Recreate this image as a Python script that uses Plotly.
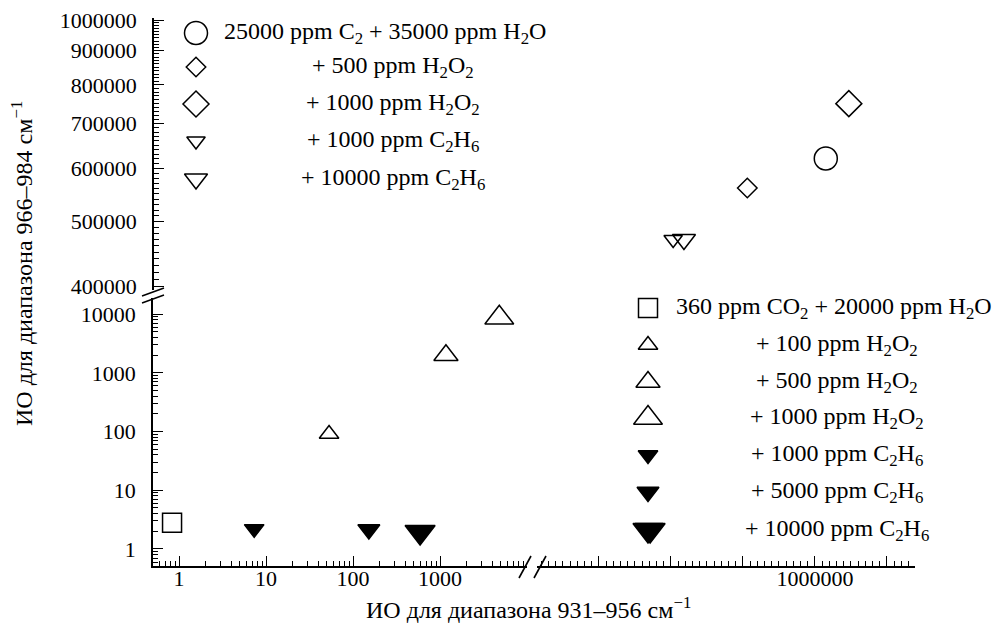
import plotly.graph_objects as go

# ---------------- DATA ----------------
# Lower panel series: "360 ppm CO2 + 20000 ppm H2O" and additions
co2_x = [0.83]
co2_y = [2.8]
h2o2_100_x = [53];    h2o2_100_y = [91]
h2o2_500_x = [1170];  h2o2_500_y = [2000]
h2o2_1000_x = [4800]; h2o2_1000_y = [8700]
c2h6_1000_x = [7.3];  c2h6_1000_y = [2.2]
c2h6_5000_x = [152];  c2h6_5000_y = [2.15]
c2h6_10000_x = [590]; c2h6_10000_y = [1.95]
c2h6_10000_hi_x = [771000]; c2h6_10000_hi_y = [2.1]

# Upper panel series: "25000 ppm C2 + 35000 ppm H2O" and additions
c2_x = [1015000];           c2_y = [621000]
c2_h2o2_500_x = [906000];   c2_h2o2_500_y = [561000]
c2_h2o2_1000_x = [1047000]; c2_h2o2_1000_y = [750000]
c2_c2h6_1000_x = [803000];  c2_c2h6_1000_y = [470000]
c2_c2h6_10000_x = [818000]; c2_c2h6_10000_y = [470000]

legend_upper = ["25000 ppm C<sub>2</sub> + 35000 ppm H<sub>2</sub>O",
                "+ 500 ppm H<sub>2</sub>O<sub>2</sub>",
                "+ 1000 ppm H<sub>2</sub>O<sub>2</sub>",
                "+ 1000 ppm C<sub>2</sub>H<sub>6</sub>",
                "+ 10000 ppm C<sub>2</sub>H<sub>6</sub>"]
legend_lower = ["360 ppm CO<sub>2</sub> + 20000 ppm H<sub>2</sub>O",
                "+ 100 ppm H<sub>2</sub>O<sub>2</sub>",
                "+ 500 ppm H<sub>2</sub>O<sub>2</sub>",
                "+ 1000 ppm H<sub>2</sub>O<sub>2</sub>",
                "+ 1000 ppm C<sub>2</sub>H<sub>6</sub>",
                "+ 5000 ppm C<sub>2</sub>H<sub>6</sub>",
                "+ 10000 ppm C<sub>2</sub>H<sub>6</sub>"]

x_low_ticks = [1, 10, 100, 1000]
y_low_ticks = [1, 10, 100, 1000, 10000]
y_up_ticks = [400000, 500000, 600000, 700000, 800000, 900000, 1000000]
x_hi_label = [1000000]

x_title = "ИО для диапазона 931–956 см<sup>−1</sup>"
y_title = "ИО для диапазона 966–984 см<sup>−1</sup>"

# ---------------- LAYOUT HELPERS ----------------
W, H = 1000, 630
OFF = 8                         # page body margin
L, R, T, B = 153, 915, 18, 566  # plot area in screen pixels


def px(x):
    return (x - L) / (R - L)


def py(y):
    return (B - y) / (B - T)


FONT = "Liberation Serif, Times New Roman, Times, serif"
BLACK = "black"

st_co2 = ("square-open", 19)
st_up = [("triangle-up-open", 17), ("triangle-up-open", 21), ("triangle-up-open", 25)]
st_dn = [("triangle-down", 17), ("triangle-down", 19), ("triangle-down", 26)]
st_c2 = ("circle-open", 23)
st_dia = [("diamond-open", 15), ("diamond-open", 20)]
st_dno = [("triangle-down-open", 16), ("triangle-down-open", 20)]


def mk(x, y, style, xa, ya):
    sym, size = style
    return go.Scatter(x=x, y=y, mode="markers", xaxis=xa, yaxis=ya,
                      showlegend=False, cliponaxis=False, hoverinfo="skip",
                      marker=dict(symbol=sym, size=size, color=BLACK,
                                  line=dict(color=BLACK, width=1.5)))


fig = go.Figure()
fig.add_trace(mk(co2_x, co2_y, st_co2, "x", "y"))
fig.add_trace(mk(h2o2_100_x, h2o2_100_y, st_up[0], "x", "y"))
fig.add_trace(mk(h2o2_500_x, h2o2_500_y, st_up[1], "x", "y"))
fig.add_trace(mk(h2o2_1000_x, h2o2_1000_y, st_up[2], "x", "y"))
fig.add_trace(mk(c2h6_1000_x, c2h6_1000_y, st_dn[0], "x", "y"))
fig.add_trace(mk(c2h6_5000_x, c2h6_5000_y, st_dn[1], "x", "y"))
fig.add_trace(mk(c2h6_10000_x, c2h6_10000_y, st_dn[2], "x", "y"))
fig.add_trace(mk(c2h6_10000_hi_x, c2h6_10000_hi_y, st_dn[2], "x2", "y"))
fig.add_trace(mk(c2_c2h6_1000_x, c2_c2h6_1000_y, st_dno[0], "x2", "y2"))
fig.add_trace(mk(c2_c2h6_10000_x, c2_c2h6_10000_y, st_dno[1], "x2", "y2"))
fig.add_trace(mk(c2_h2o2_500_x, c2_h2o2_500_y, st_dia[0], "x2", "y2"))
fig.add_trace(mk(c2_x, c2_y, st_c2, "x2", "y2"))
fig.add_trace(mk(c2_h2o2_1000_x, c2_h2o2_1000_y, st_dia[1], "x2", "y2"))

# ---------------- legends (overlay axes in paper units) ----------------
LEG_SIZE = 24
annotations = []
up_styles = [st_c2, st_dia[0], st_dia[1], st_dno[0], st_dno[1]]
up_rows = [33, 67, 104, 141, 179]
for i, (name, style) in enumerate(zip(legend_upper, up_styles)):
    fig.add_trace(mk([px(196)], [py(up_rows[i])], style, "x3", "y3"))
    if i == 0:
        annotations.append(dict(x=px(222), y=py(up_rows[i]), text=name, xanchor="left"))
    else:
        annotations.append(dict(x=px(393), y=py(up_rows[i]), text=name, xanchor="center"))

lo_styles = [st_co2] + st_up + st_dn
lo_rows = [308, 345, 382, 418, 455, 492, 530]
for i, (name, style) in enumerate(zip(legend_lower, lo_styles)):
    fig.add_trace(mk([px(648)], [py(lo_rows[i])], style, "x3", "y3"))
    if i == 0:
        annotations.append(dict(x=px(674), y=py(lo_rows[i]), text=name, xanchor="left"))
    else:
        annotations.append(dict(x=px(837), y=py(lo_rows[i]), text=name, xanchor="center"))

for a in annotations:
    a.update(xref="paper", yref="paper", yanchor="middle", showarrow=False,
             font=dict(family=FONT, size=LEG_SIZE, color=BLACK))

annotations.append(dict(x=px(528), y=py(608), xref="paper", yref="paper", text=x_title,
                        showarrow=False, xanchor="center", yanchor="middle",
                        font=dict(family=FONT, size=24, color=BLACK)))
annotations.append(dict(x=px(22), y=py(264), xref="paper", yref="paper", text=y_title,
                        showarrow=False, xanchor="center", yanchor="middle", textangle=-90,
                        font=dict(family=FONT, size=24, color=BLACK)))

# ---------------- axes ----------------
common = dict(showgrid=False, zeroline=False, showline=True, linecolor=BLACK, linewidth=1.6,
              ticks="inside", ticklen=10, tickwidth=1.4, tickcolor=BLACK,
              ticklabeloverflow="allow", automargin=False,
              tickfont=dict(family=FONT, size=22, color=BLACK))


def log_minor(lo, hi):
    vals = []
    for d in range(-2, 8):
        for k in range(2, 10):
            v = k * 10 ** d
            if lo <= v <= hi:
                vals.append(v)
    return vals


minor_style = dict(ticks="inside", ticklen=5, tickwidth=1.2, tickcolor=BLACK, showgrid=False)

x_hi_major = list(range(700000, 1100001, 100000))
x_hi_minor = [v for v in range(620000, 1138000, 10000) if v % 100000]
y_up_minor = [v for v in range(400000, 1008000, 10000) if v % 100000]

fig.update_layout(
    width=W, height=H,
    margin=dict(l=L - OFF, r=W - (R - OFF), t=T - OFF, b=H - (B - OFF), pad=0, autoexpand=False),
    paper_bgcolor="white", plot_bgcolor="rgba(0,0,0,0)",
    showlegend=False,
    font=dict(family=FONT, size=22, color=BLACK),
    xaxis=dict(type="log", domain=[0, px(527)], range=[-0.30, 4.0], anchor="y",
               tickmode="array", tickvals=x_low_ticks, ticktext=[str(v) for v in x_low_ticks],
               ticklabelstandoff=-8,
               minor=dict(tickmode="array", tickvals=log_minor(0.5, 10000), **minor_style),
               **common),
    xaxis2=dict(type="linear", domain=[px(537), 1], range=[613900, 1138900], anchor="y",
                tickmode="array", tickvals=x_hi_major,
                ticktext=[str(v) if v in x_hi_label else "" for v in x_hi_major],
                ticklabelstandoff=-8,
                minor=dict(tickmode="array", tickvals=x_hi_minor, **minor_style),
                **common),
    yaxis=dict(type="log", domain=[0, py(298)], range=[-0.29, 4.276], anchor="x",
               tickmode="array", tickvals=y_low_ticks, ticktext=[str(v) for v in y_low_ticks],
               ticklabelstandoff=11,
               minor=dict(tickmode="array", tickvals=log_minor(0.5, 18000), **minor_style),
               **common),
    yaxis2=dict(type="log", domain=[py(290), 1], range=[5.5966, 6.003], anchor="free", position=0,
                tickmode="array", tickvals=y_up_ticks, ticktext=[str(v) for v in y_up_ticks],
                ticklabelstandoff=11,
                minor=dict(tickmode="array", tickvals=y_up_minor, **minor_style),
                **common),
    xaxis3=dict(domain=[0, 1], range=[0, 1], visible=False, anchor="y3"),
    yaxis3=dict(domain=[0, 1], range=[0, 1], visible=False, anchor="x3"),
    annotations=annotations,
)

shapes = []
for (x0, y0, x1, y1) in [(142, 296, 164, 288), (142, 303, 164, 295),
                         (519, 578, 531, 556), (534, 578, 546, 556)]:
    shapes.append(dict(type="line", xref="paper", yref="paper",
                       x0=px(x0), y0=py(y0), x1=px(x1), y1=py(y1),
                       line=dict(color=BLACK, width=1.6)))
fig.update_layout(shapes=shapes)

fig.write_html("out.html")
